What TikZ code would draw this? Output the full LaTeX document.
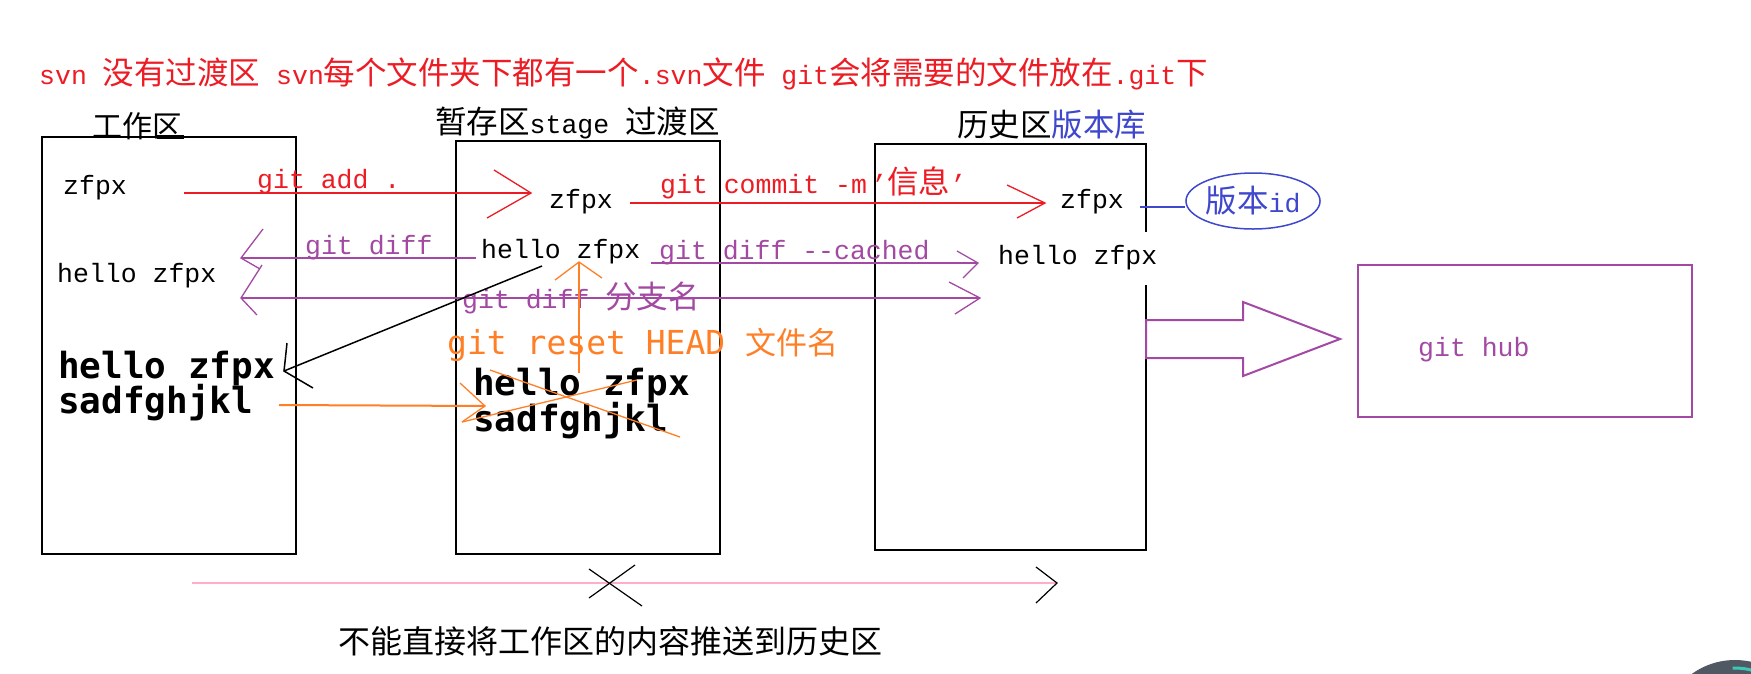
\documentclass[tikz,border=0pt]{standalone}
\usepackage{fontspec}
\usetikzlibrary{shapes.geometric}
\setmainfont{Liberation Mono}
\newfontfamily\cjk{Noto Sans CJK SC}
\newfontfamily\dvm{DejaVu Sans Mono}
\definecolor{pred}{RGB}{237,28,36}
\definecolor{ppurple}{RGB}{163,73,164}
\definecolor{porange}{RGB}{255,127,39}
\definecolor{pblue}{RGB}{63,72,204}
\definecolor{ppink}{RGB}{255,174,201}
\definecolor{uigray}{RGB}{80,88,100}
\definecolor{uiteal}{RGB}{60,200,180}
\newcommand\A{\fontsize{26.5}{30}\selectfont}
\newcommand\C[1]{{\cjk\fontsize{31.5}{34}\selectfont #1}}
\newcommand\Ct[1]{{\cjk\fontsize{30}{34}\selectfont #1}}
\newcommand\Cb[1]{{\cjk\fontsize{32}{34}\selectfont #1}}
\tikzset{
  box/.style={draw=black, line width=2pt, inner sep=0pt, anchor=north west},
  asc/.style={font=\A, inner sep=0pt, anchor=base west},
  boldtxt/.style={font=\dvm\bfseries\fontsize{36}{40}\selectfont, inner sep=0pt, anchor=base west},
  redline/.style={draw=pred, line width=2pt},
  redtip/.style={draw=pred, line width=1.3pt},
  purline/.style={draw=ppurple, line width=2pt},
  purtip/.style={draw=ppurple, line width=1.3pt},
  oraline/.style={draw=porange, line width=2pt},
  oratip/.style={draw=porange, line width=1.3pt},
  blkline/.style={draw=black, line width=1.5pt},
}
\begin{document}
\begin{tikzpicture}[x=1pt,y=-1pt]
\fill[white] (0,0) rectangle (1751,673);
\useasboundingbox (0,0) rectangle (1751,673);

% UI artefact at the bottom right corner
\begin{scope}
\clip (0,0) rectangle (1751,673);
\fill[uigray] (1735,734) circle (74);
\draw[uiteal, line width=3pt] (1735,734) ++(-92:66) arc (-92:-72:66);
\end{scope}

% title
\node[asc, text=pred] (title) at (39,84)
  {svn \C{没有过渡区} svn\C{每个文件夹下都有一个}.svn\C{文件} git\C{会将需要的文件放在}.git\C{下}};

% boxes
\node[box, minimum width=254pt, minimum height=417pt] (work) at (41,136) {};
\node[box, minimum width=264pt, minimum height=413pt] (stage) at (455,140) {};
\node[box, minimum width=271pt, minimum height=406pt] (hist) at (874,143) {};
\draw[line width=4pt] (157,137) -- (184,137);

% box labels
\node[inner sep=0pt, anchor=base west] (lwork) at (92,137) {\Ct{工作区}};
\node[asc] (lstage) at (435,133) {\C{暂存区}stage \C{过渡区}};
\node[asc] (lhist) at (957,136) {\C{历史区}\textcolor{pblue}{\C{版本库}}};

% working area texts
\node[asc] (wz) at (63,194) {zfpx};
\node[asc] (wh) at (57,282) {hello zfpx};
\node[boldtxt] (wb1) at (58,378) {hello zfpx};
\node[boldtxt] (wb2) at (58,413) {sadfghjkl};

% stage texts
\node[asc] (sz) at (549,208) {zfpx};
\node[asc] (sh) at (481,258) {hello zfpx};
\node[boldtxt] (sb1) at (473,395) {hello zfpx};
\node[boldtxt] (sb2) at (473,431) {sadfghjkl};

% history texts
\node[asc] (hz) at (1060,208) {zfpx};
\node[asc, fill=white, text height=32pt, text depth=21pt] (hh) at (998,264) {hello zfpx};

% version id
\node[ellipse, draw=pblue, line width=1.5pt, minimum width=117pt, minimum height=56pt,
      inner sep=0pt, text=pblue, font=\A] (vid) at (1253,201) {\C{版本}id};
\coordinate (vidl) at (1140,207);
\draw[draw=pblue, line width=2pt] (vidl) -- (vid.west |- vidl);

% git add .
\coordinate (ga1) at (184,193);
\coordinate (ga2) at (531,193);
\draw[redline] (ga1) -- (ga2);
\draw[redtip] (ga2) ++(-37,-23) -- (ga2) -- ++(-44,25);
\node[asc, text=pred] (lga) at (257,188) {git add .};

% git commit
\coordinate (gc1) at (630,203);
\coordinate (gc2) at (1045,203);
\draw[redline] (gc1) -- (gc2);
\draw[redtip] (gc2) ++(-38,-18) -- (gc2) -- ++(-28,15);
\node[asc, text=pred] (lgc) at (660,193) {git commit -m\,’\C{信息}’};

% git diff
\coordinate (gd1) at (476,258);
\coordinate (gd2) at (241,258);
\draw[purline] (gd1) -- (gd2);
\draw[purtip] (gd2) ++(22,-29) -- (gd2) -- ++(19,11);
\node[asc, text=ppurple] (lgd) at (305,254) {git diff};

% git diff --cached
\coordinate (gk1) at (651,263);
\coordinate (gk2) at (978,263);
\draw[purline] (gk1) -- (gk2);
\draw[purtip] (gk2) ++(-21,-12) -- (gk2) -- ++(-15,15);
\node[asc, text=ppurple] (lgk) at (659,259) {git diff -{}-cached};

% git diff branch
\coordinate (gb1) at (241,298);
\coordinate (gb2) at (980,298);
\draw[purline] (gb1) -- (gb2);
\draw[purtip] (gb1) ++(21,-33) -- (gb1) -- ++(16,17);
\draw[purtip] (gb2) ++(-31,-16) -- (gb2) -- ++(-25,16);
\node[asc, text=ppurple] (lgb) at (462,308) {git diff \C{分支名}};

% black line back to working area
\coordinate (bl1) at (542,266);
\coordinate (bl2) at (284,371);
\draw[blkline] (bl1) -- (bl2);
\draw[blkline] (287,343) -- (285,362) -- (bl2) -- ++(29,17);

% orange: add to stage
\coordinate (or1) at (279,405);
\coordinate (or2) at (485,406);
\draw[oraline] (or1) -- (or2);
\draw[oratip] (or2) ++(-25,-23) -- (or2) -- ++(-23,16);

% orange: reset
\coordinate (ou1) at (579,373);
\coordinate (ou2) at (579,262);
\draw[oraline] (ou1) -- (ou2);
\draw[oratip] (ou2) ++(-24,18) -- (ou2) -- ++(23,16);
\node[inner sep=0pt, anchor=base west, text=porange, font=\dvm\fontsize{33}{36}\selectfont]
  (lreset) at (447,354) {git reset HEAD {\cjk\fontsize{31}{34}\selectfont 文件名}};

% orange cross
\draw[oratip] (490,370) -- (680,437);
\draw[oratip] (462,422) -- (637,380);

% big arrow to git hub
\draw[draw=ppurple, line width=2pt, line join=miter]
  (1146,320) -- (1243,320) -- (1243,302) -- (1340,339) -- (1243,376) -- (1243,358) -- (1146,358) -- cycle;
\node[box, draw=ppurple, minimum width=334pt, minimum height=152pt] (hub) at (1357,264) {};
\node[asc, text=ppurple] (lhub) at (1418,356) {git hub};

% bottom: not allowed
\coordinate (pk1) at (192,583);
\coordinate (pk2) at (1057,583);
\draw[draw=ppink, line width=2pt] (pk1) -- (pk2);
\draw[line width=1.2pt] (pk2) ++(-21,-16) -- (pk2) -- ++(-21,20);
\draw[line width=1.2pt] (589,569) -- (642,606);
\draw[line width=1.2pt] (635,565) -- (589,598);
\node[inner sep=0pt, anchor=base west] (lbottom) at (338,653) {\Cb{不能直接将工作区的内容推送到历史区}};
\end{tikzpicture}
\end{document}
